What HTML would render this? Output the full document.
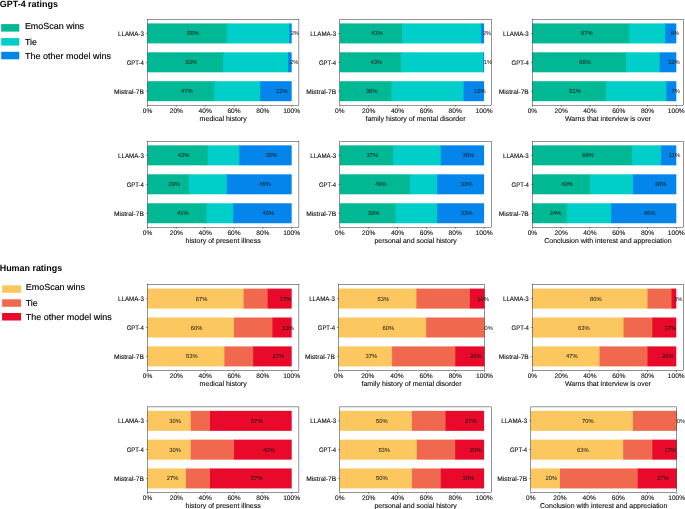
<!DOCTYPE html>
<html><head><meta charset="utf-8"><style>
html,body{margin:0;padding:0;background:#fff;}
body{width:685px;height:509px;overflow:hidden;}
svg{display:block;font-family:"Liberation Sans",sans-serif;text-rendering:geometricPrecision;will-change:transform;}
</style></head><body>
<svg width="685" height="509" viewBox="0 0 685 509">
<rect width="685" height="509" fill="#fff"/>
<text x="-0.3" y="6.5" font-size="9" font-weight="bold" fill="#000" textLength="58.3" lengthAdjust="spacingAndGlyphs">GPT-4 ratings</text>
<rect x="1.20" y="24.10" width="18.1" height="7.5" fill="#00b894"/>
<text x="24.90" y="28.50" font-size="8.8" fill="#000" stroke="#000" stroke-width="0.15" textLength="59.2" lengthAdjust="spacingAndGlyphs">EmoScan wins</text>
<rect x="1.20" y="38.10" width="18.1" height="7.5" fill="#00cec9"/>
<text x="24.90" y="44.50" font-size="8.8" fill="#000" stroke="#000" stroke-width="0.15">Tie</text>
<rect x="1.20" y="51.80" width="18.1" height="7.5" fill="#0385ec"/>
<text x="24.90" y="58.75" font-size="8.8" fill="#000" stroke="#000" stroke-width="0.15" textLength="86.0" lengthAdjust="spacingAndGlyphs">The other model wins</text>
<text x="-0.3" y="271.0" font-size="9" font-weight="bold" fill="#000" textLength="62.5" lengthAdjust="spacingAndGlyphs">Human ratings</text>
<rect x="2.10" y="285.30" width="18.9" height="7.5" fill="#fdc75f"/>
<text x="25.80" y="289.70" font-size="8.8" fill="#000" stroke="#000" stroke-width="0.15" textLength="59.2" lengthAdjust="spacingAndGlyphs">EmoScan wins</text>
<rect x="2.10" y="299.30" width="18.9" height="7.5" fill="#f0694e"/>
<text x="25.80" y="305.70" font-size="8.8" fill="#000" stroke="#000" stroke-width="0.15">Tie</text>
<rect x="2.10" y="313.00" width="18.9" height="7.5" fill="#e8092b"/>
<text x="25.80" y="319.95" font-size="8.8" fill="#000" stroke="#000" stroke-width="0.15" textLength="86.0" lengthAdjust="spacingAndGlyphs">The other model wins</text>
<rect x="147.50" y="23.41" width="80.10" height="20.00" fill="#00b894"/>
<rect x="226.80" y="23.41" width="63.38" height="20.00" fill="#00cec9"/>
<rect x="289.38" y="23.41" width="2.31" height="20.00" fill="#0385ec"/>
<text x="187.25" y="35.41" font-size="5.9" text-anchor="start" fill="#1a1a1a" stroke="#1a1a1a" stroke-width="0.04" textLength="11.67" lengthAdjust="spacingAndGlyphs">55%</text>
<text x="290.64" y="35.41" font-size="5.9" text-anchor="start" fill="#1a1a1a" stroke="#1a1a1a" stroke-width="0.04" textLength="8.33" lengthAdjust="spacingAndGlyphs">2%</text>
<line x1="145.90" y1="33.41" x2="147.50" y2="33.41" stroke="#000" stroke-width="0.42"/>
<text x="143.90" y="36.01" font-size="6.6" text-anchor="end" fill="#111" stroke="#111" stroke-width="0.12" textLength="25.84" lengthAdjust="spacingAndGlyphs">LLAMA-3</text>
<rect x="147.50" y="52.30" width="76.50" height="20.00" fill="#00b894"/>
<rect x="223.20" y="52.30" width="65.69" height="20.00" fill="#00cec9"/>
<rect x="288.09" y="52.30" width="3.60" height="20.00" fill="#0385ec"/>
<text x="185.45" y="64.30" font-size="5.9" text-anchor="start" fill="#1a1a1a" stroke="#1a1a1a" stroke-width="0.04" textLength="11.67" lengthAdjust="spacingAndGlyphs">53%</text>
<text x="289.99" y="64.30" font-size="5.9" text-anchor="start" fill="#1a1a1a" stroke="#1a1a1a" stroke-width="0.04" textLength="8.33" lengthAdjust="spacingAndGlyphs">2%</text>
<line x1="145.90" y1="62.30" x2="147.50" y2="62.30" stroke="#000" stroke-width="0.42"/>
<text x="143.90" y="64.90" font-size="6.6" text-anchor="end" fill="#111" stroke="#111" stroke-width="0.12" textLength="17.22" lengthAdjust="spacingAndGlyphs">GPT-4</text>
<rect x="147.50" y="81.19" width="67.56" height="20.00" fill="#00b894"/>
<rect x="214.26" y="81.19" width="46.80" height="20.00" fill="#00cec9"/>
<rect x="260.26" y="81.19" width="31.43" height="20.00" fill="#0385ec"/>
<text x="180.98" y="93.19" font-size="5.9" text-anchor="start" fill="#1a1a1a" stroke="#1a1a1a" stroke-width="0.04" textLength="11.67" lengthAdjust="spacingAndGlyphs">47%</text>
<text x="276.07" y="93.19" font-size="5.9" text-anchor="start" fill="#1a1a1a" stroke="#1a1a1a" stroke-width="0.04" textLength="11.67" lengthAdjust="spacingAndGlyphs">22%</text>
<line x1="145.90" y1="91.19" x2="147.50" y2="91.19" stroke="#000" stroke-width="0.42"/>
<text x="143.90" y="93.79" font-size="6.6" text-anchor="end" fill="#111" stroke="#111" stroke-width="0.12" textLength="29.98" lengthAdjust="spacingAndGlyphs">Mistral-7B</text>
<rect x="147.50" y="19.40" width="151.40" height="85.80" fill="none" stroke="#000" stroke-width="0.42"/>
<line x1="147.50" y1="105.20" x2="147.50" y2="106.80" stroke="#000" stroke-width="0.42"/>
<text x="147.50" y="112.70" font-size="6.6" text-anchor="middle" fill="#111" stroke="#111" stroke-width="0.12" textLength="9.44" lengthAdjust="spacingAndGlyphs">0%</text>
<line x1="176.34" y1="105.20" x2="176.34" y2="106.80" stroke="#000" stroke-width="0.42"/>
<text x="176.34" y="112.70" font-size="6.6" text-anchor="middle" fill="#111" stroke="#111" stroke-width="0.12" textLength="13.22" lengthAdjust="spacingAndGlyphs">20%</text>
<line x1="205.18" y1="105.20" x2="205.18" y2="106.80" stroke="#000" stroke-width="0.42"/>
<text x="205.18" y="112.70" font-size="6.6" text-anchor="middle" fill="#111" stroke="#111" stroke-width="0.12" textLength="13.22" lengthAdjust="spacingAndGlyphs">40%</text>
<line x1="234.01" y1="105.20" x2="234.01" y2="106.80" stroke="#000" stroke-width="0.42"/>
<text x="234.01" y="112.70" font-size="6.6" text-anchor="middle" fill="#111" stroke="#111" stroke-width="0.12" textLength="13.22" lengthAdjust="spacingAndGlyphs">60%</text>
<line x1="262.85" y1="105.20" x2="262.85" y2="106.80" stroke="#000" stroke-width="0.42"/>
<text x="262.85" y="112.70" font-size="6.6" text-anchor="middle" fill="#111" stroke="#111" stroke-width="0.12" textLength="13.22" lengthAdjust="spacingAndGlyphs">80%</text>
<line x1="291.69" y1="105.20" x2="291.69" y2="106.80" stroke="#000" stroke-width="0.42"/>
<text x="291.69" y="112.70" font-size="6.6" text-anchor="middle" fill="#111" stroke="#111" stroke-width="0.12" textLength="17.01" lengthAdjust="spacingAndGlyphs">100%</text>
<text x="223.20" y="120.50" font-size="7.0" text-anchor="middle" fill="#111" stroke="#111" stroke-width="0.12" textLength="47.12" lengthAdjust="spacingAndGlyphs">medical history</text>
<rect x="339.80" y="23.41" width="63.13" height="20.00" fill="#00b894"/>
<rect x="402.13" y="23.41" width="79.72" height="20.00" fill="#00cec9"/>
<rect x="481.06" y="23.41" width="3.03" height="20.00" fill="#0385ec"/>
<text x="371.07" y="35.41" font-size="5.9" text-anchor="start" fill="#1a1a1a" stroke="#1a1a1a" stroke-width="0.04" textLength="11.67" lengthAdjust="spacingAndGlyphs">43%</text>
<text x="482.67" y="35.41" font-size="5.9" text-anchor="start" fill="#1a1a1a" stroke="#1a1a1a" stroke-width="0.04" textLength="8.33" lengthAdjust="spacingAndGlyphs">2%</text>
<line x1="338.20" y1="33.41" x2="339.80" y2="33.41" stroke="#000" stroke-width="0.42"/>
<text x="336.20" y="36.01" font-size="6.6" text-anchor="end" fill="#111" stroke="#111" stroke-width="0.12" textLength="25.84" lengthAdjust="spacingAndGlyphs">LLAMA-3</text>
<rect x="339.80" y="52.30" width="61.98" height="20.00" fill="#00b894"/>
<rect x="400.98" y="52.30" width="83.04" height="20.00" fill="#00cec9"/>
<rect x="483.22" y="52.30" width="0.87" height="20.00" fill="#0385ec"/>
<text x="370.49" y="64.30" font-size="5.9" text-anchor="start" fill="#1a1a1a" stroke="#1a1a1a" stroke-width="0.04" textLength="11.67" lengthAdjust="spacingAndGlyphs">43%</text>
<text x="483.75" y="64.30" font-size="5.9" text-anchor="start" fill="#1a1a1a" stroke="#1a1a1a" stroke-width="0.04" textLength="8.33" lengthAdjust="spacingAndGlyphs">1%</text>
<line x1="338.20" y1="62.30" x2="339.80" y2="62.30" stroke="#000" stroke-width="0.42"/>
<text x="336.20" y="64.90" font-size="6.6" text-anchor="end" fill="#111" stroke="#111" stroke-width="0.12" textLength="17.22" lengthAdjust="spacingAndGlyphs">GPT-4</text>
<rect x="339.80" y="81.19" width="52.31" height="20.00" fill="#00b894"/>
<rect x="391.31" y="81.19" width="73.09" height="20.00" fill="#00cec9"/>
<rect x="463.60" y="81.19" width="20.49" height="20.00" fill="#0385ec"/>
<text x="365.66" y="93.19" font-size="5.9" text-anchor="start" fill="#1a1a1a" stroke="#1a1a1a" stroke-width="0.04" textLength="11.67" lengthAdjust="spacingAndGlyphs">36%</text>
<text x="473.94" y="93.19" font-size="5.9" text-anchor="start" fill="#1a1a1a" stroke="#1a1a1a" stroke-width="0.04" textLength="11.67" lengthAdjust="spacingAndGlyphs">15%</text>
<line x1="338.20" y1="91.19" x2="339.80" y2="91.19" stroke="#000" stroke-width="0.42"/>
<text x="336.20" y="93.79" font-size="6.6" text-anchor="end" fill="#111" stroke="#111" stroke-width="0.12" textLength="29.98" lengthAdjust="spacingAndGlyphs">Mistral-7B</text>
<rect x="339.80" y="19.40" width="151.50" height="85.80" fill="none" stroke="#000" stroke-width="0.42"/>
<line x1="339.80" y1="105.20" x2="339.80" y2="106.80" stroke="#000" stroke-width="0.42"/>
<text x="339.80" y="112.70" font-size="6.6" text-anchor="middle" fill="#111" stroke="#111" stroke-width="0.12" textLength="9.44" lengthAdjust="spacingAndGlyphs">0%</text>
<line x1="368.66" y1="105.20" x2="368.66" y2="106.80" stroke="#000" stroke-width="0.42"/>
<text x="368.66" y="112.70" font-size="6.6" text-anchor="middle" fill="#111" stroke="#111" stroke-width="0.12" textLength="13.22" lengthAdjust="spacingAndGlyphs">20%</text>
<line x1="397.51" y1="105.20" x2="397.51" y2="106.80" stroke="#000" stroke-width="0.42"/>
<text x="397.51" y="112.70" font-size="6.6" text-anchor="middle" fill="#111" stroke="#111" stroke-width="0.12" textLength="13.22" lengthAdjust="spacingAndGlyphs">40%</text>
<line x1="426.37" y1="105.20" x2="426.37" y2="106.80" stroke="#000" stroke-width="0.42"/>
<text x="426.37" y="112.70" font-size="6.6" text-anchor="middle" fill="#111" stroke="#111" stroke-width="0.12" textLength="13.22" lengthAdjust="spacingAndGlyphs">60%</text>
<line x1="455.23" y1="105.20" x2="455.23" y2="106.80" stroke="#000" stroke-width="0.42"/>
<text x="455.23" y="112.70" font-size="6.6" text-anchor="middle" fill="#111" stroke="#111" stroke-width="0.12" textLength="13.22" lengthAdjust="spacingAndGlyphs">80%</text>
<line x1="484.09" y1="105.20" x2="484.09" y2="106.80" stroke="#000" stroke-width="0.42"/>
<text x="484.09" y="112.70" font-size="6.6" text-anchor="middle" fill="#111" stroke="#111" stroke-width="0.12" textLength="17.01" lengthAdjust="spacingAndGlyphs">100%</text>
<text x="415.55" y="120.50" font-size="7.0" text-anchor="middle" fill="#111" stroke="#111" stroke-width="0.12" textLength="100.17" lengthAdjust="spacingAndGlyphs">family history of mental disorder</text>
<rect x="532.40" y="23.41" width="97.65" height="20.00" fill="#00b894"/>
<rect x="629.25" y="23.41" width="36.78" height="20.00" fill="#00cec9"/>
<rect x="665.22" y="23.41" width="11.08" height="20.00" fill="#0385ec"/>
<text x="580.92" y="35.41" font-size="5.9" text-anchor="start" fill="#1a1a1a" stroke="#1a1a1a" stroke-width="0.04" textLength="11.67" lengthAdjust="spacingAndGlyphs">67%</text>
<text x="670.86" y="35.41" font-size="5.9" text-anchor="start" fill="#1a1a1a" stroke="#1a1a1a" stroke-width="0.04" textLength="8.33" lengthAdjust="spacingAndGlyphs">8%</text>
<line x1="530.80" y1="33.41" x2="532.40" y2="33.41" stroke="#000" stroke-width="0.42"/>
<text x="528.80" y="36.01" font-size="6.6" text-anchor="end" fill="#111" stroke="#111" stroke-width="0.12" textLength="25.84" lengthAdjust="spacingAndGlyphs">LLAMA-3</text>
<rect x="532.40" y="52.30" width="94.48" height="20.00" fill="#00b894"/>
<rect x="626.08" y="52.30" width="34.47" height="20.00" fill="#00cec9"/>
<rect x="659.76" y="52.30" width="16.55" height="20.00" fill="#0385ec"/>
<text x="579.34" y="64.30" font-size="5.9" text-anchor="start" fill="#1a1a1a" stroke="#1a1a1a" stroke-width="0.04" textLength="11.67" lengthAdjust="spacingAndGlyphs">65%</text>
<text x="668.13" y="64.30" font-size="5.9" text-anchor="start" fill="#1a1a1a" stroke="#1a1a1a" stroke-width="0.04" textLength="11.67" lengthAdjust="spacingAndGlyphs">12%</text>
<line x1="530.80" y1="62.30" x2="532.40" y2="62.30" stroke="#000" stroke-width="0.42"/>
<text x="528.80" y="64.90" font-size="6.6" text-anchor="end" fill="#111" stroke="#111" stroke-width="0.12" textLength="17.22" lengthAdjust="spacingAndGlyphs">GPT-4</text>
<rect x="532.40" y="81.19" width="74.34" height="20.00" fill="#00b894"/>
<rect x="605.94" y="81.19" width="61.24" height="20.00" fill="#00cec9"/>
<rect x="666.38" y="81.19" width="9.93" height="20.00" fill="#0385ec"/>
<text x="569.27" y="93.19" font-size="5.9" text-anchor="start" fill="#1a1a1a" stroke="#1a1a1a" stroke-width="0.04" textLength="11.67" lengthAdjust="spacingAndGlyphs">51%</text>
<text x="671.44" y="93.19" font-size="5.9" text-anchor="start" fill="#1a1a1a" stroke="#1a1a1a" stroke-width="0.04" textLength="8.33" lengthAdjust="spacingAndGlyphs">7%</text>
<line x1="530.80" y1="91.19" x2="532.40" y2="91.19" stroke="#000" stroke-width="0.42"/>
<text x="528.80" y="93.79" font-size="6.6" text-anchor="end" fill="#111" stroke="#111" stroke-width="0.12" textLength="29.98" lengthAdjust="spacingAndGlyphs">Mistral-7B</text>
<rect x="532.40" y="19.40" width="151.10" height="85.80" fill="none" stroke="#000" stroke-width="0.42"/>
<line x1="532.40" y1="105.20" x2="532.40" y2="106.80" stroke="#000" stroke-width="0.42"/>
<text x="532.40" y="112.70" font-size="6.6" text-anchor="middle" fill="#111" stroke="#111" stroke-width="0.12" textLength="9.44" lengthAdjust="spacingAndGlyphs">0%</text>
<line x1="561.18" y1="105.20" x2="561.18" y2="106.80" stroke="#000" stroke-width="0.42"/>
<text x="561.18" y="112.70" font-size="6.6" text-anchor="middle" fill="#111" stroke="#111" stroke-width="0.12" textLength="13.22" lengthAdjust="spacingAndGlyphs">20%</text>
<line x1="589.96" y1="105.20" x2="589.96" y2="106.80" stroke="#000" stroke-width="0.42"/>
<text x="589.96" y="112.70" font-size="6.6" text-anchor="middle" fill="#111" stroke="#111" stroke-width="0.12" textLength="13.22" lengthAdjust="spacingAndGlyphs">40%</text>
<line x1="618.74" y1="105.20" x2="618.74" y2="106.80" stroke="#000" stroke-width="0.42"/>
<text x="618.74" y="112.70" font-size="6.6" text-anchor="middle" fill="#111" stroke="#111" stroke-width="0.12" textLength="13.22" lengthAdjust="spacingAndGlyphs">60%</text>
<line x1="647.52" y1="105.20" x2="647.52" y2="106.80" stroke="#000" stroke-width="0.42"/>
<text x="647.52" y="112.70" font-size="6.6" text-anchor="middle" fill="#111" stroke="#111" stroke-width="0.12" textLength="13.22" lengthAdjust="spacingAndGlyphs">80%</text>
<line x1="676.30" y1="105.20" x2="676.30" y2="106.80" stroke="#000" stroke-width="0.42"/>
<text x="676.30" y="112.70" font-size="6.6" text-anchor="middle" fill="#111" stroke="#111" stroke-width="0.12" textLength="17.01" lengthAdjust="spacingAndGlyphs">100%</text>
<text x="607.95" y="120.50" font-size="7.0" text-anchor="middle" fill="#111" stroke="#111" stroke-width="0.12" textLength="85.99" lengthAdjust="spacingAndGlyphs">Warns that interview is over</text>
<rect x="147.50" y="145.34" width="60.93" height="20.00" fill="#00b894"/>
<rect x="207.63" y="145.34" width="32.38" height="20.00" fill="#00cec9"/>
<rect x="239.21" y="145.34" width="52.49" height="20.00" fill="#0385ec"/>
<text x="177.66" y="157.34" font-size="5.9" text-anchor="start" fill="#1a1a1a" stroke="#1a1a1a" stroke-width="0.04" textLength="11.67" lengthAdjust="spacingAndGlyphs">42%</text>
<text x="265.55" y="157.34" font-size="5.9" text-anchor="start" fill="#1a1a1a" stroke="#1a1a1a" stroke-width="0.04" textLength="11.67" lengthAdjust="spacingAndGlyphs">36%</text>
<line x1="145.90" y1="155.34" x2="147.50" y2="155.34" stroke="#000" stroke-width="0.42"/>
<text x="143.90" y="157.94" font-size="6.6" text-anchor="end" fill="#111" stroke="#111" stroke-width="0.12" textLength="25.84" lengthAdjust="spacingAndGlyphs">LLAMA-3</text>
<rect x="147.50" y="174.30" width="42.18" height="20.00" fill="#00b894"/>
<rect x="188.88" y="174.30" width="38.72" height="20.00" fill="#00cec9"/>
<rect x="226.80" y="174.30" width="64.89" height="20.00" fill="#0385ec"/>
<text x="168.29" y="186.30" font-size="5.9" text-anchor="start" fill="#1a1a1a" stroke="#1a1a1a" stroke-width="0.04" textLength="11.67" lengthAdjust="spacingAndGlyphs">29%</text>
<text x="259.35" y="186.30" font-size="5.9" text-anchor="start" fill="#1a1a1a" stroke="#1a1a1a" stroke-width="0.04" textLength="11.67" lengthAdjust="spacingAndGlyphs">45%</text>
<line x1="145.90" y1="184.30" x2="147.50" y2="184.30" stroke="#000" stroke-width="0.42"/>
<text x="143.90" y="186.90" font-size="6.6" text-anchor="end" fill="#111" stroke="#111" stroke-width="0.12" textLength="17.22" lengthAdjust="spacingAndGlyphs">GPT-4</text>
<rect x="147.50" y="203.26" width="59.63" height="20.00" fill="#00b894"/>
<rect x="206.33" y="203.26" width="27.76" height="20.00" fill="#00cec9"/>
<rect x="233.29" y="203.26" width="58.40" height="20.00" fill="#0385ec"/>
<text x="177.01" y="215.26" font-size="5.9" text-anchor="start" fill="#1a1a1a" stroke="#1a1a1a" stroke-width="0.04" textLength="11.67" lengthAdjust="spacingAndGlyphs">41%</text>
<text x="262.59" y="215.26" font-size="5.9" text-anchor="start" fill="#1a1a1a" stroke="#1a1a1a" stroke-width="0.04" textLength="11.67" lengthAdjust="spacingAndGlyphs">40%</text>
<line x1="145.90" y1="213.26" x2="147.50" y2="213.26" stroke="#000" stroke-width="0.42"/>
<text x="143.90" y="215.86" font-size="6.6" text-anchor="end" fill="#111" stroke="#111" stroke-width="0.12" textLength="29.98" lengthAdjust="spacingAndGlyphs">Mistral-7B</text>
<rect x="147.50" y="141.30" width="151.40" height="86.00" fill="none" stroke="#000" stroke-width="0.42"/>
<line x1="147.50" y1="227.30" x2="147.50" y2="228.90" stroke="#000" stroke-width="0.42"/>
<text x="147.50" y="234.80" font-size="6.6" text-anchor="middle" fill="#111" stroke="#111" stroke-width="0.12" textLength="9.44" lengthAdjust="spacingAndGlyphs">0%</text>
<line x1="176.34" y1="227.30" x2="176.34" y2="228.90" stroke="#000" stroke-width="0.42"/>
<text x="176.34" y="234.80" font-size="6.6" text-anchor="middle" fill="#111" stroke="#111" stroke-width="0.12" textLength="13.22" lengthAdjust="spacingAndGlyphs">20%</text>
<line x1="205.18" y1="227.30" x2="205.18" y2="228.90" stroke="#000" stroke-width="0.42"/>
<text x="205.18" y="234.80" font-size="6.6" text-anchor="middle" fill="#111" stroke="#111" stroke-width="0.12" textLength="13.22" lengthAdjust="spacingAndGlyphs">40%</text>
<line x1="234.01" y1="227.30" x2="234.01" y2="228.90" stroke="#000" stroke-width="0.42"/>
<text x="234.01" y="234.80" font-size="6.6" text-anchor="middle" fill="#111" stroke="#111" stroke-width="0.12" textLength="13.22" lengthAdjust="spacingAndGlyphs">60%</text>
<line x1="262.85" y1="227.30" x2="262.85" y2="228.90" stroke="#000" stroke-width="0.42"/>
<text x="262.85" y="234.80" font-size="6.6" text-anchor="middle" fill="#111" stroke="#111" stroke-width="0.12" textLength="13.22" lengthAdjust="spacingAndGlyphs">80%</text>
<line x1="291.69" y1="227.30" x2="291.69" y2="228.90" stroke="#000" stroke-width="0.42"/>
<text x="291.69" y="234.80" font-size="6.6" text-anchor="middle" fill="#111" stroke="#111" stroke-width="0.12" textLength="17.01" lengthAdjust="spacingAndGlyphs">100%</text>
<text x="223.20" y="242.60" font-size="7.0" text-anchor="middle" fill="#111" stroke="#111" stroke-width="0.12" textLength="75.17" lengthAdjust="spacingAndGlyphs">history of present illness</text>
<rect x="339.80" y="145.34" width="54.19" height="20.00" fill="#00b894"/>
<rect x="393.19" y="145.34" width="48.41" height="20.00" fill="#00cec9"/>
<rect x="440.80" y="145.34" width="43.29" height="20.00" fill="#0385ec"/>
<text x="366.59" y="157.34" font-size="5.9" text-anchor="start" fill="#1a1a1a" stroke="#1a1a1a" stroke-width="0.04" textLength="11.67" lengthAdjust="spacingAndGlyphs">37%</text>
<text x="462.54" y="157.34" font-size="5.9" text-anchor="start" fill="#1a1a1a" stroke="#1a1a1a" stroke-width="0.04" textLength="11.67" lengthAdjust="spacingAndGlyphs">30%</text>
<line x1="338.20" y1="155.34" x2="339.80" y2="155.34" stroke="#000" stroke-width="0.42"/>
<text x="336.20" y="157.94" font-size="6.6" text-anchor="end" fill="#111" stroke="#111" stroke-width="0.12" textLength="25.84" lengthAdjust="spacingAndGlyphs">LLAMA-3</text>
<rect x="339.80" y="174.30" width="71.07" height="20.00" fill="#00b894"/>
<rect x="410.07" y="174.30" width="27.93" height="20.00" fill="#00cec9"/>
<rect x="437.19" y="174.30" width="46.89" height="20.00" fill="#0385ec"/>
<text x="375.03" y="186.30" font-size="5.9" text-anchor="start" fill="#1a1a1a" stroke="#1a1a1a" stroke-width="0.04" textLength="11.67" lengthAdjust="spacingAndGlyphs">49%</text>
<text x="460.74" y="186.30" font-size="5.9" text-anchor="start" fill="#1a1a1a" stroke="#1a1a1a" stroke-width="0.04" textLength="11.67" lengthAdjust="spacingAndGlyphs">33%</text>
<line x1="338.20" y1="184.30" x2="339.80" y2="184.30" stroke="#000" stroke-width="0.42"/>
<text x="336.20" y="186.90" font-size="6.6" text-anchor="end" fill="#111" stroke="#111" stroke-width="0.12" textLength="17.22" lengthAdjust="spacingAndGlyphs">GPT-4</text>
<rect x="339.80" y="203.26" width="56.49" height="20.00" fill="#00b894"/>
<rect x="395.49" y="203.26" width="42.50" height="20.00" fill="#00cec9"/>
<rect x="437.19" y="203.26" width="46.89" height="20.00" fill="#0385ec"/>
<text x="367.75" y="215.26" font-size="5.9" text-anchor="start" fill="#1a1a1a" stroke="#1a1a1a" stroke-width="0.04" textLength="11.67" lengthAdjust="spacingAndGlyphs">39%</text>
<text x="460.74" y="215.26" font-size="5.9" text-anchor="start" fill="#1a1a1a" stroke="#1a1a1a" stroke-width="0.04" textLength="11.67" lengthAdjust="spacingAndGlyphs">33%</text>
<line x1="338.20" y1="213.26" x2="339.80" y2="213.26" stroke="#000" stroke-width="0.42"/>
<text x="336.20" y="215.86" font-size="6.6" text-anchor="end" fill="#111" stroke="#111" stroke-width="0.12" textLength="29.98" lengthAdjust="spacingAndGlyphs">Mistral-7B</text>
<rect x="339.80" y="141.30" width="151.50" height="86.00" fill="none" stroke="#000" stroke-width="0.42"/>
<line x1="339.80" y1="227.30" x2="339.80" y2="228.90" stroke="#000" stroke-width="0.42"/>
<text x="339.80" y="234.80" font-size="6.6" text-anchor="middle" fill="#111" stroke="#111" stroke-width="0.12" textLength="9.44" lengthAdjust="spacingAndGlyphs">0%</text>
<line x1="368.66" y1="227.30" x2="368.66" y2="228.90" stroke="#000" stroke-width="0.42"/>
<text x="368.66" y="234.80" font-size="6.6" text-anchor="middle" fill="#111" stroke="#111" stroke-width="0.12" textLength="13.22" lengthAdjust="spacingAndGlyphs">20%</text>
<line x1="397.51" y1="227.30" x2="397.51" y2="228.90" stroke="#000" stroke-width="0.42"/>
<text x="397.51" y="234.80" font-size="6.6" text-anchor="middle" fill="#111" stroke="#111" stroke-width="0.12" textLength="13.22" lengthAdjust="spacingAndGlyphs">40%</text>
<line x1="426.37" y1="227.30" x2="426.37" y2="228.90" stroke="#000" stroke-width="0.42"/>
<text x="426.37" y="234.80" font-size="6.6" text-anchor="middle" fill="#111" stroke="#111" stroke-width="0.12" textLength="13.22" lengthAdjust="spacingAndGlyphs">60%</text>
<line x1="455.23" y1="227.30" x2="455.23" y2="228.90" stroke="#000" stroke-width="0.42"/>
<text x="455.23" y="234.80" font-size="6.6" text-anchor="middle" fill="#111" stroke="#111" stroke-width="0.12" textLength="13.22" lengthAdjust="spacingAndGlyphs">80%</text>
<line x1="484.09" y1="227.30" x2="484.09" y2="228.90" stroke="#000" stroke-width="0.42"/>
<text x="484.09" y="234.80" font-size="6.6" text-anchor="middle" fill="#111" stroke="#111" stroke-width="0.12" textLength="17.01" lengthAdjust="spacingAndGlyphs">100%</text>
<text x="415.55" y="242.60" font-size="7.0" text-anchor="middle" fill="#111" stroke="#111" stroke-width="0.12" textLength="82.28" lengthAdjust="spacingAndGlyphs">personal and social history</text>
<rect x="532.40" y="145.34" width="100.38" height="20.00" fill="#00b894"/>
<rect x="631.98" y="145.34" width="29.87" height="20.00" fill="#00cec9"/>
<rect x="661.05" y="145.34" width="15.25" height="20.00" fill="#0385ec"/>
<text x="582.29" y="157.34" font-size="5.9" text-anchor="start" fill="#1a1a1a" stroke="#1a1a1a" stroke-width="0.04" textLength="11.67" lengthAdjust="spacingAndGlyphs">69%</text>
<text x="668.78" y="157.34" font-size="5.9" text-anchor="start" fill="#1a1a1a" stroke="#1a1a1a" stroke-width="0.04" textLength="11.67" lengthAdjust="spacingAndGlyphs">11%</text>
<line x1="530.80" y1="155.34" x2="532.40" y2="155.34" stroke="#000" stroke-width="0.42"/>
<text x="528.80" y="157.94" font-size="6.6" text-anchor="end" fill="#111" stroke="#111" stroke-width="0.12" textLength="25.84" lengthAdjust="spacingAndGlyphs">LLAMA-3</text>
<rect x="532.40" y="174.30" width="58.51" height="20.00" fill="#00b894"/>
<rect x="590.11" y="174.30" width="43.68" height="20.00" fill="#00cec9"/>
<rect x="632.99" y="174.30" width="43.32" height="20.00" fill="#0385ec"/>
<text x="561.35" y="186.30" font-size="5.9" text-anchor="start" fill="#1a1a1a" stroke="#1a1a1a" stroke-width="0.04" textLength="11.67" lengthAdjust="spacingAndGlyphs">40%</text>
<text x="654.75" y="186.30" font-size="5.9" text-anchor="start" fill="#1a1a1a" stroke="#1a1a1a" stroke-width="0.04" textLength="11.67" lengthAdjust="spacingAndGlyphs">30%</text>
<line x1="530.80" y1="184.30" x2="532.40" y2="184.30" stroke="#000" stroke-width="0.42"/>
<text x="528.80" y="186.90" font-size="6.6" text-anchor="end" fill="#111" stroke="#111" stroke-width="0.12" textLength="17.22" lengthAdjust="spacingAndGlyphs">GPT-4</text>
<rect x="532.40" y="203.26" width="35.34" height="20.00" fill="#00b894"/>
<rect x="566.94" y="203.26" width="44.98" height="20.00" fill="#00cec9"/>
<rect x="611.12" y="203.26" width="65.19" height="20.00" fill="#0385ec"/>
<text x="549.77" y="215.26" font-size="5.9" text-anchor="start" fill="#1a1a1a" stroke="#1a1a1a" stroke-width="0.04" textLength="11.67" lengthAdjust="spacingAndGlyphs">24%</text>
<text x="643.81" y="215.26" font-size="5.9" text-anchor="start" fill="#1a1a1a" stroke="#1a1a1a" stroke-width="0.04" textLength="11.67" lengthAdjust="spacingAndGlyphs">45%</text>
<line x1="530.80" y1="213.26" x2="532.40" y2="213.26" stroke="#000" stroke-width="0.42"/>
<text x="528.80" y="215.86" font-size="6.6" text-anchor="end" fill="#111" stroke="#111" stroke-width="0.12" textLength="29.98" lengthAdjust="spacingAndGlyphs">Mistral-7B</text>
<rect x="532.40" y="141.30" width="151.10" height="86.00" fill="none" stroke="#000" stroke-width="0.42"/>
<line x1="532.40" y1="227.30" x2="532.40" y2="228.90" stroke="#000" stroke-width="0.42"/>
<text x="532.40" y="234.80" font-size="6.6" text-anchor="middle" fill="#111" stroke="#111" stroke-width="0.12" textLength="9.44" lengthAdjust="spacingAndGlyphs">0%</text>
<line x1="561.18" y1="227.30" x2="561.18" y2="228.90" stroke="#000" stroke-width="0.42"/>
<text x="561.18" y="234.80" font-size="6.6" text-anchor="middle" fill="#111" stroke="#111" stroke-width="0.12" textLength="13.22" lengthAdjust="spacingAndGlyphs">20%</text>
<line x1="589.96" y1="227.30" x2="589.96" y2="228.90" stroke="#000" stroke-width="0.42"/>
<text x="589.96" y="234.80" font-size="6.6" text-anchor="middle" fill="#111" stroke="#111" stroke-width="0.12" textLength="13.22" lengthAdjust="spacingAndGlyphs">40%</text>
<line x1="618.74" y1="227.30" x2="618.74" y2="228.90" stroke="#000" stroke-width="0.42"/>
<text x="618.74" y="234.80" font-size="6.6" text-anchor="middle" fill="#111" stroke="#111" stroke-width="0.12" textLength="13.22" lengthAdjust="spacingAndGlyphs">60%</text>
<line x1="647.52" y1="227.30" x2="647.52" y2="228.90" stroke="#000" stroke-width="0.42"/>
<text x="647.52" y="234.80" font-size="6.6" text-anchor="middle" fill="#111" stroke="#111" stroke-width="0.12" textLength="13.22" lengthAdjust="spacingAndGlyphs">80%</text>
<line x1="676.30" y1="227.30" x2="676.30" y2="228.90" stroke="#000" stroke-width="0.42"/>
<text x="676.30" y="234.80" font-size="6.6" text-anchor="middle" fill="#111" stroke="#111" stroke-width="0.12" textLength="17.01" lengthAdjust="spacingAndGlyphs">100%</text>
<text x="607.95" y="242.60" font-size="7.0" text-anchor="middle" fill="#111" stroke="#111" stroke-width="0.12" textLength="127.32" lengthAdjust="spacingAndGlyphs">Conclusion with interest and appreciation</text>
<rect x="147.50" y="288.61" width="96.93" height="20.00" fill="#fdc75f"/>
<rect x="243.63" y="288.61" width="24.83" height="20.00" fill="#f0694e"/>
<rect x="267.66" y="288.61" width="24.03" height="20.00" fill="#e8092b"/>
<text x="195.66" y="300.61" font-size="5.9" text-anchor="start" fill="#1a1a1a" stroke="#1a1a1a" stroke-width="0.04" textLength="11.67" lengthAdjust="spacingAndGlyphs">67%</text>
<text x="279.77" y="300.61" font-size="5.9" text-anchor="start" fill="#1a1a1a" stroke="#1a1a1a" stroke-width="0.04" textLength="11.67" lengthAdjust="spacingAndGlyphs">17%</text>
<line x1="145.90" y1="298.61" x2="147.50" y2="298.61" stroke="#000" stroke-width="0.42"/>
<text x="143.90" y="301.21" font-size="6.6" text-anchor="end" fill="#111" stroke="#111" stroke-width="0.12" textLength="25.84" lengthAdjust="spacingAndGlyphs">LLAMA-3</text>
<rect x="147.50" y="317.50" width="87.31" height="20.00" fill="#fdc75f"/>
<rect x="234.01" y="317.50" width="39.25" height="20.00" fill="#f0694e"/>
<rect x="272.47" y="317.50" width="19.23" height="20.00" fill="#e8092b"/>
<text x="190.86" y="329.50" font-size="5.9" text-anchor="start" fill="#1a1a1a" stroke="#1a1a1a" stroke-width="0.04" textLength="11.67" lengthAdjust="spacingAndGlyphs">60%</text>
<text x="282.18" y="329.50" font-size="5.9" text-anchor="start" fill="#1a1a1a" stroke="#1a1a1a" stroke-width="0.04" textLength="11.67" lengthAdjust="spacingAndGlyphs">13%</text>
<line x1="145.90" y1="327.50" x2="147.50" y2="327.50" stroke="#000" stroke-width="0.42"/>
<text x="143.90" y="330.10" font-size="6.6" text-anchor="end" fill="#111" stroke="#111" stroke-width="0.12" textLength="17.22" lengthAdjust="spacingAndGlyphs">GPT-4</text>
<rect x="147.50" y="346.39" width="77.70" height="20.00" fill="#fdc75f"/>
<rect x="224.40" y="346.39" width="29.64" height="20.00" fill="#f0694e"/>
<rect x="253.24" y="346.39" width="38.45" height="20.00" fill="#e8092b"/>
<text x="186.05" y="358.39" font-size="5.9" text-anchor="start" fill="#1a1a1a" stroke="#1a1a1a" stroke-width="0.04" textLength="11.67" lengthAdjust="spacingAndGlyphs">53%</text>
<text x="272.57" y="358.39" font-size="5.9" text-anchor="start" fill="#1a1a1a" stroke="#1a1a1a" stroke-width="0.04" textLength="11.67" lengthAdjust="spacingAndGlyphs">27%</text>
<line x1="145.90" y1="356.39" x2="147.50" y2="356.39" stroke="#000" stroke-width="0.42"/>
<text x="143.90" y="358.99" font-size="6.6" text-anchor="end" fill="#111" stroke="#111" stroke-width="0.12" textLength="29.98" lengthAdjust="spacingAndGlyphs">Mistral-7B</text>
<rect x="147.50" y="284.60" width="151.40" height="85.80" fill="none" stroke="#000" stroke-width="0.42"/>
<line x1="147.50" y1="370.40" x2="147.50" y2="372.00" stroke="#000" stroke-width="0.42"/>
<text x="147.50" y="377.90" font-size="6.6" text-anchor="middle" fill="#111" stroke="#111" stroke-width="0.12" textLength="9.44" lengthAdjust="spacingAndGlyphs">0%</text>
<line x1="176.34" y1="370.40" x2="176.34" y2="372.00" stroke="#000" stroke-width="0.42"/>
<text x="176.34" y="377.90" font-size="6.6" text-anchor="middle" fill="#111" stroke="#111" stroke-width="0.12" textLength="13.22" lengthAdjust="spacingAndGlyphs">20%</text>
<line x1="205.18" y1="370.40" x2="205.18" y2="372.00" stroke="#000" stroke-width="0.42"/>
<text x="205.18" y="377.90" font-size="6.6" text-anchor="middle" fill="#111" stroke="#111" stroke-width="0.12" textLength="13.22" lengthAdjust="spacingAndGlyphs">40%</text>
<line x1="234.01" y1="370.40" x2="234.01" y2="372.00" stroke="#000" stroke-width="0.42"/>
<text x="234.01" y="377.90" font-size="6.6" text-anchor="middle" fill="#111" stroke="#111" stroke-width="0.12" textLength="13.22" lengthAdjust="spacingAndGlyphs">60%</text>
<line x1="262.85" y1="370.40" x2="262.85" y2="372.00" stroke="#000" stroke-width="0.42"/>
<text x="262.85" y="377.90" font-size="6.6" text-anchor="middle" fill="#111" stroke="#111" stroke-width="0.12" textLength="13.22" lengthAdjust="spacingAndGlyphs">80%</text>
<line x1="291.69" y1="370.40" x2="291.69" y2="372.00" stroke="#000" stroke-width="0.42"/>
<text x="291.69" y="377.90" font-size="6.6" text-anchor="middle" fill="#111" stroke="#111" stroke-width="0.12" textLength="17.01" lengthAdjust="spacingAndGlyphs">100%</text>
<text x="223.20" y="385.70" font-size="7.0" text-anchor="middle" fill="#111" stroke="#111" stroke-width="0.12" textLength="47.12" lengthAdjust="spacingAndGlyphs">medical history</text>
<rect x="338.60" y="288.61" width="78.61" height="20.00" fill="#fdc75f"/>
<rect x="416.41" y="288.61" width="54.30" height="20.00" fill="#f0694e"/>
<rect x="469.91" y="288.61" width="14.59" height="20.00" fill="#e8092b"/>
<text x="377.61" y="300.61" font-size="5.9" text-anchor="start" fill="#1a1a1a" stroke="#1a1a1a" stroke-width="0.04" textLength="11.67" lengthAdjust="spacingAndGlyphs">53%</text>
<text x="477.31" y="300.61" font-size="5.9" text-anchor="start" fill="#1a1a1a" stroke="#1a1a1a" stroke-width="0.04" textLength="11.67" lengthAdjust="spacingAndGlyphs">10%</text>
<line x1="337.00" y1="298.61" x2="338.60" y2="298.61" stroke="#000" stroke-width="0.42"/>
<text x="335.00" y="301.21" font-size="6.6" text-anchor="end" fill="#111" stroke="#111" stroke-width="0.12" textLength="25.84" lengthAdjust="spacingAndGlyphs">LLAMA-3</text>
<rect x="338.60" y="317.50" width="88.34" height="20.00" fill="#fdc75f"/>
<rect x="426.14" y="317.50" width="58.36" height="20.00" fill="#f0694e"/>
<text x="382.47" y="329.50" font-size="5.9" text-anchor="start" fill="#1a1a1a" stroke="#1a1a1a" stroke-width="0.04" textLength="11.67" lengthAdjust="spacingAndGlyphs">60%</text>
<text x="484.60" y="329.50" font-size="5.9" text-anchor="start" fill="#1a1a1a" stroke="#1a1a1a" stroke-width="0.04" textLength="8.33" lengthAdjust="spacingAndGlyphs">0%</text>
<line x1="337.00" y1="327.50" x2="338.60" y2="327.50" stroke="#000" stroke-width="0.42"/>
<text x="335.00" y="330.10" font-size="6.6" text-anchor="end" fill="#111" stroke="#111" stroke-width="0.12" textLength="17.22" lengthAdjust="spacingAndGlyphs">GPT-4</text>
<rect x="338.60" y="346.39" width="54.30" height="20.00" fill="#fdc75f"/>
<rect x="392.10" y="346.39" width="64.02" height="20.00" fill="#f0694e"/>
<rect x="455.32" y="346.39" width="29.18" height="20.00" fill="#e8092b"/>
<text x="365.45" y="358.39" font-size="5.9" text-anchor="start" fill="#1a1a1a" stroke="#1a1a1a" stroke-width="0.04" textLength="11.67" lengthAdjust="spacingAndGlyphs">37%</text>
<text x="470.01" y="358.39" font-size="5.9" text-anchor="start" fill="#1a1a1a" stroke="#1a1a1a" stroke-width="0.04" textLength="11.67" lengthAdjust="spacingAndGlyphs">20%</text>
<line x1="337.00" y1="356.39" x2="338.60" y2="356.39" stroke="#000" stroke-width="0.42"/>
<text x="335.00" y="358.99" font-size="6.6" text-anchor="end" fill="#111" stroke="#111" stroke-width="0.12" textLength="29.98" lengthAdjust="spacingAndGlyphs">Mistral-7B</text>
<rect x="338.60" y="284.60" width="145.90" height="85.80" fill="none" stroke="#000" stroke-width="0.42"/>
<line x1="338.60" y1="370.40" x2="338.60" y2="372.00" stroke="#000" stroke-width="0.42"/>
<text x="338.60" y="377.90" font-size="6.6" text-anchor="middle" fill="#111" stroke="#111" stroke-width="0.12" textLength="9.44" lengthAdjust="spacingAndGlyphs">0%</text>
<line x1="367.78" y1="370.40" x2="367.78" y2="372.00" stroke="#000" stroke-width="0.42"/>
<text x="367.78" y="377.90" font-size="6.6" text-anchor="middle" fill="#111" stroke="#111" stroke-width="0.12" textLength="13.22" lengthAdjust="spacingAndGlyphs">20%</text>
<line x1="396.96" y1="370.40" x2="396.96" y2="372.00" stroke="#000" stroke-width="0.42"/>
<text x="396.96" y="377.90" font-size="6.6" text-anchor="middle" fill="#111" stroke="#111" stroke-width="0.12" textLength="13.22" lengthAdjust="spacingAndGlyphs">40%</text>
<line x1="426.14" y1="370.40" x2="426.14" y2="372.00" stroke="#000" stroke-width="0.42"/>
<text x="426.14" y="377.90" font-size="6.6" text-anchor="middle" fill="#111" stroke="#111" stroke-width="0.12" textLength="13.22" lengthAdjust="spacingAndGlyphs">60%</text>
<line x1="455.32" y1="370.40" x2="455.32" y2="372.00" stroke="#000" stroke-width="0.42"/>
<text x="455.32" y="377.90" font-size="6.6" text-anchor="middle" fill="#111" stroke="#111" stroke-width="0.12" textLength="13.22" lengthAdjust="spacingAndGlyphs">80%</text>
<line x1="484.50" y1="370.40" x2="484.50" y2="372.00" stroke="#000" stroke-width="0.42"/>
<text x="484.50" y="377.90" font-size="6.6" text-anchor="middle" fill="#111" stroke="#111" stroke-width="0.12" textLength="17.01" lengthAdjust="spacingAndGlyphs">100%</text>
<text x="411.55" y="385.70" font-size="7.0" text-anchor="middle" fill="#111" stroke="#111" stroke-width="0.12" textLength="100.17" lengthAdjust="spacingAndGlyphs">family history of mental disorder</text>
<rect x="532.40" y="288.61" width="115.92" height="20.00" fill="#fdc75f"/>
<rect x="647.52" y="288.61" width="24.78" height="20.00" fill="#f0694e"/>
<rect x="671.51" y="288.61" width="4.80" height="20.00" fill="#e8092b"/>
<text x="590.06" y="300.61" font-size="5.9" text-anchor="start" fill="#1a1a1a" stroke="#1a1a1a" stroke-width="0.04" textLength="11.67" lengthAdjust="spacingAndGlyphs">80%</text>
<text x="674.01" y="300.61" font-size="5.9" text-anchor="start" fill="#1a1a1a" stroke="#1a1a1a" stroke-width="0.04" textLength="8.33" lengthAdjust="spacingAndGlyphs">3%</text>
<line x1="530.80" y1="298.61" x2="532.40" y2="298.61" stroke="#000" stroke-width="0.42"/>
<text x="528.80" y="301.21" font-size="6.6" text-anchor="end" fill="#111" stroke="#111" stroke-width="0.12" textLength="25.84" lengthAdjust="spacingAndGlyphs">LLAMA-3</text>
<rect x="532.40" y="317.50" width="91.94" height="20.00" fill="#fdc75f"/>
<rect x="623.54" y="317.50" width="29.58" height="20.00" fill="#f0694e"/>
<rect x="652.32" y="317.50" width="23.98" height="20.00" fill="#e8092b"/>
<text x="578.07" y="329.50" font-size="5.9" text-anchor="start" fill="#1a1a1a" stroke="#1a1a1a" stroke-width="0.04" textLength="11.67" lengthAdjust="spacingAndGlyphs">63%</text>
<text x="664.41" y="329.50" font-size="5.9" text-anchor="start" fill="#1a1a1a" stroke="#1a1a1a" stroke-width="0.04" textLength="11.67" lengthAdjust="spacingAndGlyphs">17%</text>
<line x1="530.80" y1="327.50" x2="532.40" y2="327.50" stroke="#000" stroke-width="0.42"/>
<text x="528.80" y="330.10" font-size="6.6" text-anchor="end" fill="#111" stroke="#111" stroke-width="0.12" textLength="17.22" lengthAdjust="spacingAndGlyphs">GPT-4</text>
<rect x="532.40" y="346.39" width="67.96" height="20.00" fill="#fdc75f"/>
<rect x="599.56" y="346.39" width="48.77" height="20.00" fill="#f0694e"/>
<rect x="647.52" y="346.39" width="28.78" height="20.00" fill="#e8092b"/>
<text x="566.08" y="358.39" font-size="5.9" text-anchor="start" fill="#1a1a1a" stroke="#1a1a1a" stroke-width="0.04" textLength="11.67" lengthAdjust="spacingAndGlyphs">47%</text>
<text x="662.01" y="358.39" font-size="5.9" text-anchor="start" fill="#1a1a1a" stroke="#1a1a1a" stroke-width="0.04" textLength="11.67" lengthAdjust="spacingAndGlyphs">20%</text>
<line x1="530.80" y1="356.39" x2="532.40" y2="356.39" stroke="#000" stroke-width="0.42"/>
<text x="528.80" y="358.99" font-size="6.6" text-anchor="end" fill="#111" stroke="#111" stroke-width="0.12" textLength="29.98" lengthAdjust="spacingAndGlyphs">Mistral-7B</text>
<rect x="532.40" y="284.60" width="151.10" height="85.80" fill="none" stroke="#000" stroke-width="0.42"/>
<line x1="532.40" y1="370.40" x2="532.40" y2="372.00" stroke="#000" stroke-width="0.42"/>
<text x="532.40" y="377.90" font-size="6.6" text-anchor="middle" fill="#111" stroke="#111" stroke-width="0.12" textLength="9.44" lengthAdjust="spacingAndGlyphs">0%</text>
<line x1="561.18" y1="370.40" x2="561.18" y2="372.00" stroke="#000" stroke-width="0.42"/>
<text x="561.18" y="377.90" font-size="6.6" text-anchor="middle" fill="#111" stroke="#111" stroke-width="0.12" textLength="13.22" lengthAdjust="spacingAndGlyphs">20%</text>
<line x1="589.96" y1="370.40" x2="589.96" y2="372.00" stroke="#000" stroke-width="0.42"/>
<text x="589.96" y="377.90" font-size="6.6" text-anchor="middle" fill="#111" stroke="#111" stroke-width="0.12" textLength="13.22" lengthAdjust="spacingAndGlyphs">40%</text>
<line x1="618.74" y1="370.40" x2="618.74" y2="372.00" stroke="#000" stroke-width="0.42"/>
<text x="618.74" y="377.90" font-size="6.6" text-anchor="middle" fill="#111" stroke="#111" stroke-width="0.12" textLength="13.22" lengthAdjust="spacingAndGlyphs">60%</text>
<line x1="647.52" y1="370.40" x2="647.52" y2="372.00" stroke="#000" stroke-width="0.42"/>
<text x="647.52" y="377.90" font-size="6.6" text-anchor="middle" fill="#111" stroke="#111" stroke-width="0.12" textLength="13.22" lengthAdjust="spacingAndGlyphs">80%</text>
<line x1="676.30" y1="370.40" x2="676.30" y2="372.00" stroke="#000" stroke-width="0.42"/>
<text x="676.30" y="377.90" font-size="6.6" text-anchor="middle" fill="#111" stroke="#111" stroke-width="0.12" textLength="17.01" lengthAdjust="spacingAndGlyphs">100%</text>
<text x="607.95" y="385.70" font-size="7.0" text-anchor="middle" fill="#111" stroke="#111" stroke-width="0.12" textLength="85.99" lengthAdjust="spacingAndGlyphs">Warns that interview is over</text>
<rect x="147.50" y="410.86" width="44.06" height="20.00" fill="#fdc75f"/>
<rect x="190.76" y="410.86" width="20.03" height="20.00" fill="#f0694e"/>
<rect x="209.98" y="410.86" width="81.71" height="20.00" fill="#e8092b"/>
<text x="169.23" y="422.86" font-size="5.9" text-anchor="start" fill="#1a1a1a" stroke="#1a1a1a" stroke-width="0.04" textLength="11.67" lengthAdjust="spacingAndGlyphs">30%</text>
<text x="250.94" y="422.86" font-size="5.9" text-anchor="start" fill="#1a1a1a" stroke="#1a1a1a" stroke-width="0.04" textLength="11.67" lengthAdjust="spacingAndGlyphs">57%</text>
<line x1="145.90" y1="420.86" x2="147.50" y2="420.86" stroke="#000" stroke-width="0.42"/>
<text x="143.90" y="423.46" font-size="6.6" text-anchor="end" fill="#111" stroke="#111" stroke-width="0.12" textLength="25.84" lengthAdjust="spacingAndGlyphs">LLAMA-3</text>
<rect x="147.50" y="439.65" width="44.06" height="20.00" fill="#fdc75f"/>
<rect x="190.76" y="439.65" width="44.06" height="20.00" fill="#f0694e"/>
<rect x="234.01" y="439.65" width="57.68" height="20.00" fill="#e8092b"/>
<text x="169.23" y="451.65" font-size="5.9" text-anchor="start" fill="#1a1a1a" stroke="#1a1a1a" stroke-width="0.04" textLength="11.67" lengthAdjust="spacingAndGlyphs">30%</text>
<text x="262.95" y="451.65" font-size="5.9" text-anchor="start" fill="#1a1a1a" stroke="#1a1a1a" stroke-width="0.04" textLength="11.67" lengthAdjust="spacingAndGlyphs">40%</text>
<line x1="145.90" y1="449.65" x2="147.50" y2="449.65" stroke="#000" stroke-width="0.42"/>
<text x="143.90" y="452.25" font-size="6.6" text-anchor="end" fill="#111" stroke="#111" stroke-width="0.12" textLength="17.22" lengthAdjust="spacingAndGlyphs">GPT-4</text>
<rect x="147.50" y="468.44" width="39.25" height="20.00" fill="#fdc75f"/>
<rect x="185.95" y="468.44" width="24.83" height="20.00" fill="#f0694e"/>
<rect x="209.98" y="468.44" width="81.71" height="20.00" fill="#e8092b"/>
<text x="166.83" y="480.44" font-size="5.9" text-anchor="start" fill="#1a1a1a" stroke="#1a1a1a" stroke-width="0.04" textLength="11.67" lengthAdjust="spacingAndGlyphs">27%</text>
<text x="250.94" y="480.44" font-size="5.9" text-anchor="start" fill="#1a1a1a" stroke="#1a1a1a" stroke-width="0.04" textLength="11.67" lengthAdjust="spacingAndGlyphs">57%</text>
<line x1="145.90" y1="478.44" x2="147.50" y2="478.44" stroke="#000" stroke-width="0.42"/>
<text x="143.90" y="481.04" font-size="6.6" text-anchor="end" fill="#111" stroke="#111" stroke-width="0.12" textLength="29.98" lengthAdjust="spacingAndGlyphs">Mistral-7B</text>
<rect x="147.50" y="406.90" width="151.40" height="85.50" fill="none" stroke="#000" stroke-width="0.42"/>
<line x1="147.50" y1="492.40" x2="147.50" y2="494.00" stroke="#000" stroke-width="0.42"/>
<text x="147.50" y="499.90" font-size="6.6" text-anchor="middle" fill="#111" stroke="#111" stroke-width="0.12" textLength="9.44" lengthAdjust="spacingAndGlyphs">0%</text>
<line x1="176.34" y1="492.40" x2="176.34" y2="494.00" stroke="#000" stroke-width="0.42"/>
<text x="176.34" y="499.90" font-size="6.6" text-anchor="middle" fill="#111" stroke="#111" stroke-width="0.12" textLength="13.22" lengthAdjust="spacingAndGlyphs">20%</text>
<line x1="205.18" y1="492.40" x2="205.18" y2="494.00" stroke="#000" stroke-width="0.42"/>
<text x="205.18" y="499.90" font-size="6.6" text-anchor="middle" fill="#111" stroke="#111" stroke-width="0.12" textLength="13.22" lengthAdjust="spacingAndGlyphs">40%</text>
<line x1="234.01" y1="492.40" x2="234.01" y2="494.00" stroke="#000" stroke-width="0.42"/>
<text x="234.01" y="499.90" font-size="6.6" text-anchor="middle" fill="#111" stroke="#111" stroke-width="0.12" textLength="13.22" lengthAdjust="spacingAndGlyphs">60%</text>
<line x1="262.85" y1="492.40" x2="262.85" y2="494.00" stroke="#000" stroke-width="0.42"/>
<text x="262.85" y="499.90" font-size="6.6" text-anchor="middle" fill="#111" stroke="#111" stroke-width="0.12" textLength="13.22" lengthAdjust="spacingAndGlyphs">80%</text>
<line x1="291.69" y1="492.40" x2="291.69" y2="494.00" stroke="#000" stroke-width="0.42"/>
<text x="291.69" y="499.90" font-size="6.6" text-anchor="middle" fill="#111" stroke="#111" stroke-width="0.12" textLength="17.01" lengthAdjust="spacingAndGlyphs">100%</text>
<text x="223.20" y="507.70" font-size="7.0" text-anchor="middle" fill="#111" stroke="#111" stroke-width="0.12" textLength="75.17" lengthAdjust="spacingAndGlyphs">history of present illness</text>
<rect x="339.80" y="410.86" width="72.94" height="20.00" fill="#fdc75f"/>
<rect x="411.94" y="410.86" width="34.47" height="20.00" fill="#f0694e"/>
<rect x="445.61" y="410.86" width="38.48" height="20.00" fill="#e8092b"/>
<text x="375.97" y="422.86" font-size="5.9" text-anchor="start" fill="#1a1a1a" stroke="#1a1a1a" stroke-width="0.04" textLength="11.67" lengthAdjust="spacingAndGlyphs">50%</text>
<text x="464.95" y="422.86" font-size="5.9" text-anchor="start" fill="#1a1a1a" stroke="#1a1a1a" stroke-width="0.04" textLength="11.67" lengthAdjust="spacingAndGlyphs">27%</text>
<line x1="338.20" y1="420.86" x2="339.80" y2="420.86" stroke="#000" stroke-width="0.42"/>
<text x="336.20" y="423.46" font-size="6.6" text-anchor="end" fill="#111" stroke="#111" stroke-width="0.12" textLength="25.84" lengthAdjust="spacingAndGlyphs">LLAMA-3</text>
<rect x="339.80" y="439.65" width="77.75" height="20.00" fill="#fdc75f"/>
<rect x="416.75" y="439.65" width="39.28" height="20.00" fill="#f0694e"/>
<rect x="455.23" y="439.65" width="28.86" height="20.00" fill="#e8092b"/>
<text x="378.38" y="451.65" font-size="5.9" text-anchor="start" fill="#1a1a1a" stroke="#1a1a1a" stroke-width="0.04" textLength="11.67" lengthAdjust="spacingAndGlyphs">53%</text>
<text x="469.76" y="451.65" font-size="5.9" text-anchor="start" fill="#1a1a1a" stroke="#1a1a1a" stroke-width="0.04" textLength="11.67" lengthAdjust="spacingAndGlyphs">20%</text>
<line x1="338.20" y1="449.65" x2="339.80" y2="449.65" stroke="#000" stroke-width="0.42"/>
<text x="336.20" y="452.25" font-size="6.6" text-anchor="end" fill="#111" stroke="#111" stroke-width="0.12" textLength="17.22" lengthAdjust="spacingAndGlyphs">GPT-4</text>
<rect x="339.80" y="468.44" width="72.94" height="20.00" fill="#fdc75f"/>
<rect x="411.94" y="468.44" width="29.66" height="20.00" fill="#f0694e"/>
<rect x="440.80" y="468.44" width="43.29" height="20.00" fill="#e8092b"/>
<text x="375.97" y="480.44" font-size="5.9" text-anchor="start" fill="#1a1a1a" stroke="#1a1a1a" stroke-width="0.04" textLength="11.67" lengthAdjust="spacingAndGlyphs">50%</text>
<text x="462.54" y="480.44" font-size="5.9" text-anchor="start" fill="#1a1a1a" stroke="#1a1a1a" stroke-width="0.04" textLength="11.67" lengthAdjust="spacingAndGlyphs">30%</text>
<line x1="338.20" y1="478.44" x2="339.80" y2="478.44" stroke="#000" stroke-width="0.42"/>
<text x="336.20" y="481.04" font-size="6.6" text-anchor="end" fill="#111" stroke="#111" stroke-width="0.12" textLength="29.98" lengthAdjust="spacingAndGlyphs">Mistral-7B</text>
<rect x="339.80" y="406.90" width="151.50" height="85.50" fill="none" stroke="#000" stroke-width="0.42"/>
<line x1="339.80" y1="492.40" x2="339.80" y2="494.00" stroke="#000" stroke-width="0.42"/>
<text x="339.80" y="499.90" font-size="6.6" text-anchor="middle" fill="#111" stroke="#111" stroke-width="0.12" textLength="9.44" lengthAdjust="spacingAndGlyphs">0%</text>
<line x1="368.66" y1="492.40" x2="368.66" y2="494.00" stroke="#000" stroke-width="0.42"/>
<text x="368.66" y="499.90" font-size="6.6" text-anchor="middle" fill="#111" stroke="#111" stroke-width="0.12" textLength="13.22" lengthAdjust="spacingAndGlyphs">20%</text>
<line x1="397.51" y1="492.40" x2="397.51" y2="494.00" stroke="#000" stroke-width="0.42"/>
<text x="397.51" y="499.90" font-size="6.6" text-anchor="middle" fill="#111" stroke="#111" stroke-width="0.12" textLength="13.22" lengthAdjust="spacingAndGlyphs">40%</text>
<line x1="426.37" y1="492.40" x2="426.37" y2="494.00" stroke="#000" stroke-width="0.42"/>
<text x="426.37" y="499.90" font-size="6.6" text-anchor="middle" fill="#111" stroke="#111" stroke-width="0.12" textLength="13.22" lengthAdjust="spacingAndGlyphs">60%</text>
<line x1="455.23" y1="492.40" x2="455.23" y2="494.00" stroke="#000" stroke-width="0.42"/>
<text x="455.23" y="499.90" font-size="6.6" text-anchor="middle" fill="#111" stroke="#111" stroke-width="0.12" textLength="13.22" lengthAdjust="spacingAndGlyphs">80%</text>
<line x1="484.09" y1="492.40" x2="484.09" y2="494.00" stroke="#000" stroke-width="0.42"/>
<text x="484.09" y="499.90" font-size="6.6" text-anchor="middle" fill="#111" stroke="#111" stroke-width="0.12" textLength="17.01" lengthAdjust="spacingAndGlyphs">100%</text>
<text x="415.55" y="507.70" font-size="7.0" text-anchor="middle" fill="#111" stroke="#111" stroke-width="0.12" textLength="82.28" lengthAdjust="spacingAndGlyphs">personal and social history</text>
<rect x="530.80" y="410.86" width="102.93" height="20.00" fill="#fdc75f"/>
<rect x="632.93" y="410.86" width="43.77" height="20.00" fill="#f0694e"/>
<text x="581.97" y="422.86" font-size="5.9" text-anchor="start" fill="#1a1a1a" stroke="#1a1a1a" stroke-width="0.04" textLength="11.67" lengthAdjust="spacingAndGlyphs">70%</text>
<text x="676.80" y="422.86" font-size="5.9" text-anchor="start" fill="#1a1a1a" stroke="#1a1a1a" stroke-width="0.04" textLength="8.33" lengthAdjust="spacingAndGlyphs">0%</text>
<line x1="529.20" y1="420.86" x2="530.80" y2="420.86" stroke="#000" stroke-width="0.42"/>
<text x="527.20" y="423.46" font-size="6.6" text-anchor="end" fill="#111" stroke="#111" stroke-width="0.12" textLength="25.84" lengthAdjust="spacingAndGlyphs">LLAMA-3</text>
<rect x="530.80" y="439.65" width="93.20" height="20.00" fill="#fdc75f"/>
<rect x="623.20" y="439.65" width="29.98" height="20.00" fill="#f0694e"/>
<rect x="652.38" y="439.65" width="24.32" height="20.00" fill="#e8092b"/>
<text x="577.10" y="451.65" font-size="5.9" text-anchor="start" fill="#1a1a1a" stroke="#1a1a1a" stroke-width="0.04" textLength="11.67" lengthAdjust="spacingAndGlyphs">63%</text>
<text x="664.64" y="451.65" font-size="5.9" text-anchor="start" fill="#1a1a1a" stroke="#1a1a1a" stroke-width="0.04" textLength="11.67" lengthAdjust="spacingAndGlyphs">17%</text>
<line x1="529.20" y1="449.65" x2="530.80" y2="449.65" stroke="#000" stroke-width="0.42"/>
<text x="527.20" y="452.25" font-size="6.6" text-anchor="end" fill="#111" stroke="#111" stroke-width="0.12" textLength="17.22" lengthAdjust="spacingAndGlyphs">GPT-4</text>
<rect x="530.80" y="468.44" width="29.98" height="20.00" fill="#fdc75f"/>
<rect x="559.98" y="468.44" width="78.61" height="20.00" fill="#f0694e"/>
<rect x="637.79" y="468.44" width="38.91" height="20.00" fill="#e8092b"/>
<text x="545.49" y="480.44" font-size="5.9" text-anchor="start" fill="#1a1a1a" stroke="#1a1a1a" stroke-width="0.04" textLength="11.67" lengthAdjust="spacingAndGlyphs">20%</text>
<text x="657.35" y="480.44" font-size="5.9" text-anchor="start" fill="#1a1a1a" stroke="#1a1a1a" stroke-width="0.04" textLength="11.67" lengthAdjust="spacingAndGlyphs">27%</text>
<line x1="529.20" y1="478.44" x2="530.80" y2="478.44" stroke="#000" stroke-width="0.42"/>
<text x="527.20" y="481.04" font-size="6.6" text-anchor="end" fill="#111" stroke="#111" stroke-width="0.12" textLength="29.98" lengthAdjust="spacingAndGlyphs">Mistral-7B</text>
<rect x="530.80" y="406.90" width="145.90" height="85.50" fill="none" stroke="#000" stroke-width="0.42"/>
<line x1="530.80" y1="492.40" x2="530.80" y2="494.00" stroke="#000" stroke-width="0.42"/>
<text x="530.80" y="499.90" font-size="6.6" text-anchor="middle" fill="#111" stroke="#111" stroke-width="0.12" textLength="9.44" lengthAdjust="spacingAndGlyphs">0%</text>
<line x1="559.98" y1="492.40" x2="559.98" y2="494.00" stroke="#000" stroke-width="0.42"/>
<text x="559.98" y="499.90" font-size="6.6" text-anchor="middle" fill="#111" stroke="#111" stroke-width="0.12" textLength="13.22" lengthAdjust="spacingAndGlyphs">20%</text>
<line x1="589.16" y1="492.40" x2="589.16" y2="494.00" stroke="#000" stroke-width="0.42"/>
<text x="589.16" y="499.90" font-size="6.6" text-anchor="middle" fill="#111" stroke="#111" stroke-width="0.12" textLength="13.22" lengthAdjust="spacingAndGlyphs">40%</text>
<line x1="618.34" y1="492.40" x2="618.34" y2="494.00" stroke="#000" stroke-width="0.42"/>
<text x="618.34" y="499.90" font-size="6.6" text-anchor="middle" fill="#111" stroke="#111" stroke-width="0.12" textLength="13.22" lengthAdjust="spacingAndGlyphs">60%</text>
<line x1="647.52" y1="492.40" x2="647.52" y2="494.00" stroke="#000" stroke-width="0.42"/>
<text x="647.52" y="499.90" font-size="6.6" text-anchor="middle" fill="#111" stroke="#111" stroke-width="0.12" textLength="13.22" lengthAdjust="spacingAndGlyphs">80%</text>
<line x1="676.70" y1="492.40" x2="676.70" y2="494.00" stroke="#000" stroke-width="0.42"/>
<text x="676.70" y="499.90" font-size="6.6" text-anchor="middle" fill="#111" stroke="#111" stroke-width="0.12" textLength="17.01" lengthAdjust="spacingAndGlyphs">100%</text>
<text x="603.75" y="507.70" font-size="7.0" text-anchor="middle" fill="#111" stroke="#111" stroke-width="0.12" textLength="127.32" lengthAdjust="spacingAndGlyphs">Conclusion with interest and appreciation</text>
</svg>
</body></html>
